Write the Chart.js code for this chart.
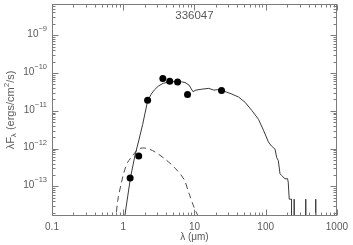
<!DOCTYPE html>
<html>
<head>
<meta charset="utf-8">
<script src="https://cdn.jsdelivr.net/npm/chart.js@4.4.1/dist/chart.umd.min.js"></script>
<style>
  html, body { margin: 0; padding: 0; background: #fff; }
</style>
</head>
<body>
<canvas id="sedChart" width="353" height="245"></canvas>
<script>
// photometry (filled circles)
const photWave = [1.25, 1.65, 2.2, 3.6, 4.5, 5.8, 8.0, 24];
const photFlux = [1.66e-13, 6.4e-13, 1.9e-11, 7.2e-11, 6.0e-11, 5.8e-11, 2.7e-11, 3.45e-11];

// model SED (solid line), drops to zero past ~210 um
const modelWave = [1.024, 1.262, 1.458, 1.647, 1.873, 2.198, 2.476, 2.727, 3.099, 3.64,
  4.412, 5.35, 6.49, 7.37, 8.38, 9.53, 10.49, 12.72, 15.92, 18.7,
  21.26, 24.41, 28.38, 33.64, 41.7, 51.7, 63.9, 79.2, 93.0, 109.2,
  120.3, 128.3, 135.4, 142.6, 150.5, 159, 167.4, 186.6, 202.9, 207.5,
  214.3, 230.7, 230.8, 251.5, 251.6, 251.7, 365.5, 365.6, 365.7, 504.9, 505, 505.1];
const modelFlux = [1.15e-14, 1.65e-13, 6.45e-13, 1.58e-12, 4.33e-12, 1.8e-11, 2.76e-11, 3.52e-11, 4.47e-11, 5.35e-11,
  5.75e-11, 5.93e-11, 5.86e-11, 5.61e-11, 4.8e-11, 3.21e-11, 3.52e-11, 3.73e-11, 3.92e-11, 3.52e-11,
  3.62e-11, 3.41e-11, 3.11e-11, 2.76e-11, 2.31e-11, 1.66e-11, 1.02e-11, 5.96e-12, 3.08e-12, 1.5e-12,
  1.17e-12, 1.06e-12, 9.64e-13, 5.82e-13, 4.78e-13, 2.15e-13, 1.94e-13, 1.59e-13, 1.59e-13, 1.29e-13,
  4.57e-14, 4.57e-14, 1e-16, 1e-16, 4.57e-14, 1e-16, 1e-16, 4.57e-14, 1e-16, 1e-16, 4.57e-14, 1e-16];

// stellar photosphere (dashed line)
const starWave = [0.78, 0.839, 0.936, 1.024, 1.146, 1.359, 1.595, 1.873, 2.322, 2.879, 3.97, 5.47, 7.14, 8.38, 9.84, 11.55];
const starFlux = [1.15e-14, 4.3e-14, 1.17e-13, 2.32e-13, 4.24e-13, 6.45e-13, 9.53e-13, 1.04e-12, 9.64e-13, 7.87e-13,
  5.07e-13, 2.9e-13, 1.52e-13, 6.56e-14, 2.83e-14, 1.46e-14];

// axes
const xTicks = [0.1, 1, 10, 100, 1000];
const xTickLabels = ['0.1', '1', '10', '100', '1000'];
const yTicks = [1e-13, 1e-12, 1e-11, 1e-10, 1e-9];
const yTickExps = ['\u221213', '\u221212', '\u221211', '\u221210', '\u22129'];
const plotTitle = '336047';

const axisColor = '#7c7c7c';
const textColor = '#5a5a5a';
const family = '"Liberation Sans", Arial, sans-serif';

function toPoints(xs, ys) {
  return xs.map((v, i) => ({x: v, y: ys[i]}));
}

// frame, inward ticks, y labels and titles
const framePlugin = {
  id: 'framePlugin',
  afterDraw(chart) {
    const ctx = chart.ctx;
    const a = chart.chartArea;
    const xs = chart.scales.x, ys = chart.scales.y;
    const L = Math.round(a.left) + 0.5, R = Math.round(a.right) - 0.5;
    const T = Math.round(a.top) + 0.5, B = Math.round(a.bottom) - 0.5;
    ctx.save();
    ctx.strokeStyle = axisColor;
    ctx.lineWidth = 1;
    ctx.strokeRect(L, T, R - L, B - T);
    ctx.beginPath();
    for (let e = -1; e <= 3; e++) {
      for (let m = 1; m <= 9; m++) {
        const v = m * Math.pow(10, e);
        if (v < xs.min * 0.999 || v > xs.max * 1.001) continue;
        const px = Math.round(xs.getPixelForValue(v)) + 0.5;
        const len = m === 1 ? 6 : 3;
        ctx.moveTo(px, B); ctx.lineTo(px, B - len);
        ctx.moveTo(px, T); ctx.lineTo(px, T + len);
      }
    }
    for (let e = -15; e <= -8; e++) {
      for (let m = 1; m <= 9; m++) {
        const v = m * Math.pow(10, e);
        if (v < ys.min || v > ys.max) continue;
        const py = Math.round(ys.getPixelForValue(v)) + 0.5;
        const len = m === 1 ? 6 : 3;
        ctx.moveTo(L, py); ctx.lineTo(L + len, py);
        ctx.moveTo(R, py); ctx.lineTo(R - len, py);
      }
    }
    ctx.stroke();

    // y tick labels: 10 with raised exponent
    ctx.fillStyle = textColor;
    ctx.textBaseline = 'middle';
    ctx.textAlign = 'left';
    const baseFont = '10px ' + family, expFont = '7.5px ' + family;
    yTicks.forEach((v, i) => {
      const py = ys.getPixelForValue(v);
      ctx.font = expFont;
      const we = ctx.measureText(yTickExps[i]).width;
      ctx.font = baseFont;
      const wb = ctx.measureText('10').width;
      const xEnd = a.left - 5;
      ctx.fillText('10', xEnd - we - wb, py - 1);
      ctx.font = expFont;
      ctx.fillText(yTickExps[i], xEnd - we, py - 6);
    });

    // y axis title, rotated
    const parts = [
      ['\u03bbF', 11, 0], ['\u03bb', 8, 3], [' (ergs/cm', 11, 0], ['2', 8, -4], ['/s)', 11, 0]
    ];
    let total = 0;
    parts.forEach(p => { ctx.font = p[1] + 'px ' + family; total += ctx.measureText(p[0]).width; });
    ctx.translate(11, (a.top + a.bottom) / 2);
    ctx.rotate(-Math.PI / 2);
    let cx = -total / 2;
    parts.forEach(p => {
      ctx.font = p[1] + 'px ' + family;
      ctx.fillText(p[0], cx, p[2]);
      cx += ctx.measureText(p[0]).width;
    });
    ctx.setTransform(1, 0, 0, 1, 0, 0);

    // title inside plot
    ctx.font = '11.5px ' + family;
    ctx.textAlign = 'center';
    ctx.fillText(plotTitle, (a.left + a.right) / 2, a.top + 12);
    ctx.restore();
  }
};

new Chart(document.getElementById('sedChart').getContext('2d'), {
  type: 'scatter',
  data: {
    datasets: [
      {
        label: 'photometry',
        data: toPoints(photWave, photFlux),
        pointRadius: 3.5,
        pointBackgroundColor: '#000',
        pointBorderWidth: 0,
        showLine: false
      },
      {
        label: 'model',
        data: toPoints(modelWave, modelFlux),
        showLine: true,
        borderColor: '#3a3a3a',
        borderWidth: 1,
        pointRadius: 0,
        tension: 0
      },
      {
        label: 'photosphere',
        data: toPoints(starWave, starFlux),
        showLine: true,
        borderColor: '#4a4a4a',
        borderWidth: 1,
        borderDash: [6, 4],
        pointRadius: 0,
        tension: 0.3
      }
    ]
  },
  options: {
    responsive: false,
    devicePixelRatio: 1,
    animation: false,
    layout: { padding: { top: 1, right: 14, bottom: 0, left: 0 } },
    plugins: { legend: { display: false }, tooltip: { enabled: false } },
    scales: {
      x: {
        type: 'logarithmic',
        position: 'bottom',
        min: 0.1,
        max: 1000,
        grid: { display: false, drawTicks: false },
        border: { display: false },
        afterBuildTicks: scale => { scale.ticks = xTicks.map(v => ({value: v})); },
        afterFit: scale => { scale.height = 29; },
        ticks: {
          color: textColor,
          font: { size: 10, family: family },
          padding: 5,
          maxRotation: 0,
          autoSkip: false,
          callback: (value, index) => xTickLabels[index]
        },
        title: {
          display: true,
          text: '\u03bb (\u03bcm)',
          color: textColor,
          font: { size: 10, family: family },
          padding: { top: 0, bottom: 2 }
        }
      },
      y: {
        type: 'logarithmic',
        min: 1.64e-14,
        max: 6.7e-9,
        grid: { display: false, drawTicks: false },
        border: { display: false },
        afterBuildTicks: scale => { scale.ticks = yTicks.map(v => ({value: v})); },
        afterFit: scale => { scale.width = 52; },
        ticks: { display: false }
      }
    }
  },
  plugins: [framePlugin]
});
</script>
</body>
</html>
